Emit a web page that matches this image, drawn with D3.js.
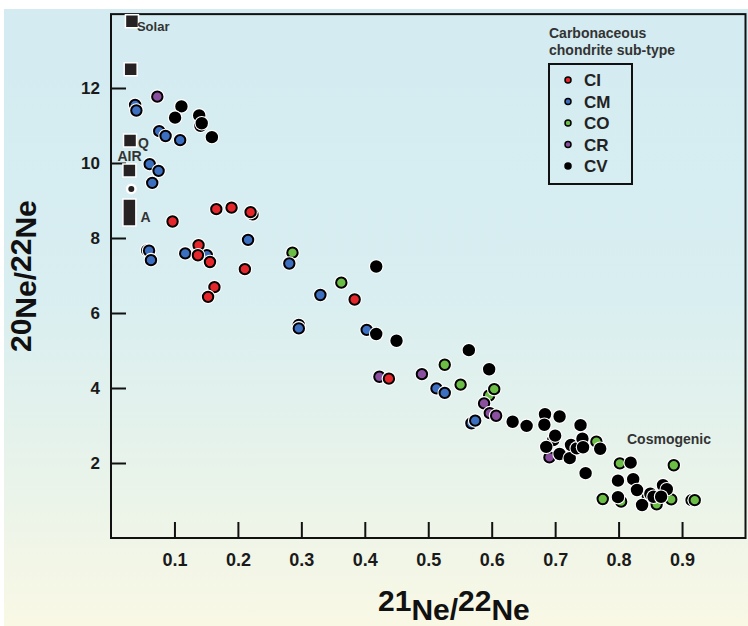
<!DOCTYPE html>
<html>
<head>
<meta charset="utf-8">
<script src="https://cdn.jsdelivr.net/npm/d3@7"></script>
<style>
  body { margin: 0; background: #fff; }
  svg { display: block; font-family: "Liberation Sans", Arial, Helvetica, sans-serif; }
</style>
</head>
<body>
<svg id="chart" width="748" height="626"></svg>
<script>
// Neon isotope ratios of carbonaceous chondrites: [21Ne/22Ne, 20Ne/22Ne]
const ciPoints = [
  [0.097, 8.44], [0.166, 8.77], [0.190, 8.81], [0.223, 8.63], [0.220, 8.69],
  [0.138, 7.81], [0.137, 7.54], [0.156, 7.36], [0.211, 7.17], [0.163, 6.69],
  [0.153, 6.43], [0.384, 6.36], [0.438, 4.25]
];
const cmPoints = [
  [0.038, 11.55], [0.040, 11.40], [0.076, 10.85], [0.086, 10.72], [0.109, 10.61],
  [0.061, 9.97], [0.075, 9.79], [0.065, 9.47], [0.057, 7.67], [0.060, 7.66],
  [0.063, 7.41], [0.117, 7.59], [0.151, 7.54], [0.216, 7.95], [0.281, 7.32],
  [0.296, 5.68], [0.296, 5.59], [0.330, 6.48], [0.403, 5.55], [0.513, 3.99],
  [0.526, 3.87], [0.568, 3.06], [0.574, 3.13]
];
const coPoints = [
  [0.286, 7.61], [0.363, 6.81], [0.526, 4.62], [0.551, 4.09], [0.596, 3.80],
  [0.604, 3.97], [0.765, 2.57], [0.802, 1.99], [0.887, 1.94], [0.775, 1.04],
  [0.804, 0.97], [0.846, 1.12], [0.860, 0.90], [0.883, 1.03], [0.915, 1.01],
  [0.920, 1.01]
];
const crPoints = [
  [0.073, 11.77], [0.423, 4.30], [0.490, 4.37], [0.588, 3.59], [0.597, 3.33],
  [0.607, 3.26], [0.691, 2.15]
];
const cvPoints = [
  [0.111, 11.51], [0.101, 11.21], [0.139, 11.27], [0.141, 10.99], [0.143, 11.06],
  [0.159, 10.69], [0.418, 7.24], [0.418, 5.44], [0.450, 5.26], [0.564, 5.01],
  [0.596, 4.50], [0.633, 3.10], [0.655, 2.99], [0.684, 3.30], [0.683, 3.02],
  [0.707, 3.24], [0.740, 3.01], [0.697, 2.61], [0.700, 2.73], [0.686, 2.43],
  [0.707, 2.24], [0.723, 2.13], [0.725, 2.48], [0.734, 2.39], [0.743, 2.65],
  [0.744, 2.42], [0.771, 2.38], [0.748, 1.73], [0.819, 2.01], [0.799, 1.53],
  [0.823, 1.57], [0.829, 1.28], [0.870, 1.41], [0.876, 1.30], [0.799, 1.09],
  [0.837, 0.88], [0.850, 1.18], [0.855, 1.10], [0.867, 1.10]
];

// Sub-types, in legend order and in drawing order
const subTypes = ["CI", "CM", "CO", "CR", "CV"];
const subTypeColors = ["#e5262b", "#3c6fc0", "#6cbd45", "#8b4f9f", "#000000"];
const drawOrder = ["CO", "CR", "CM", "CI", "CV"];
const seriesByType = { CI: ciPoints, CM: cmPoints, CO: coPoints, CR: crPoints, CV: cvPoints };

// Reference neon components
const refNames = ["Solar", "", "Q", "AIR"];
const refX = [0.033, 0.031, 0.030, 0.029];
const refY = [13.78, 12.50, 10.60, 9.80];
const refDot = [0.032, 9.31];
const refA = { x: 0.029, yLow: 8.32, yHigh: 9.04 };

const xTicks = [0.1, 0.2, 0.3, 0.4, 0.5, 0.6, 0.7, 0.8, 0.9];
const yTicks = [2, 4, 6, 8, 10, 12];

const svg = d3.select("#chart");
const W = 748, H = 626;

// background wash: pale blue at top fading to cream at bottom
const defs = svg.append("defs");
const grad = defs.append("linearGradient").attr("id", "bg").attr("x1", 0).attr("y1", 0).attr("x2", 0).attr("y2", 1);
[[0, "#d3ebf1"], [0.45, "#d8eef1"], [0.75, "#e8f3ea"], [1, "#f9f8e5"]].forEach(([o, c]) =>
  grad.append("stop").attr("offset", o).attr("stop-color", c));
svg.append("rect").attr("x", 4).attr("y", 9).attr("width", W - 4).attr("height", H - 9).attr("fill", "url(#bg)");

const x = d3.scaleLinear().domain([0, 1]).range([111, 745.5]);
const y = d3.scaleLinear().domain([0, 14]).range([538, 13]);

// plot frame
svg.append("rect")
  .attr("x", x(0)).attr("y", y(13.97))
  .attr("width", x(1) - x(0)).attr("height", y(0) - y(13.97))
  .attr("fill", "none").attr("stroke", "#111").attr("stroke-width", 2);

// axes with inward ticks
const xAxis = svg.append("g").attr("transform", `translate(0,${y(0)})`)
  .call(d3.axisBottom(x).tickValues(xTicks).tickSize(-16).tickPadding(0).tickFormat(d3.format(".1f")));
xAxis.select(".domain").remove();
xAxis.selectAll(".tick line").attr("stroke", "#111").attr("stroke-width", 2);
xAxis.selectAll(".tick text").attr("y", 22).attr("dy", "0.35em")
  .attr("font-size", 18).attr("font-weight", "bold").attr("fill", "#1a1a1a").attr("font-family", null);

const yAxis = svg.append("g").attr("transform", `translate(${x(0)},0)`)
  .call(d3.axisLeft(y).tickValues(yTicks).tickSize(-15).tickPadding(0));
yAxis.select(".domain").remove();
yAxis.selectAll(".tick line").attr("stroke", "#111").attr("stroke-width", 2);
yAxis.selectAll(".tick text").attr("x", -11).attr("dy", "0.35em")
  .attr("font-size", 17).attr("font-weight", "bold").attr("fill", "#1a1a1a").attr("font-family", null);

// axis titles
const xTitle = svg.append("text").attr("x", 378).attr("y", 620)
  .attr("font-size", 30).attr("font-weight", "bold").attr("fill", "#111");
[["21", -9], ["Ne/", 9], ["22", -9], ["Ne", 9]].forEach(([t, d]) =>
  xTitle.append("tspan").attr("dy", d).text(t));

const yTitle = svg.append("text").attr("transform", "translate(36,352) rotate(-90)")
  .attr("font-size", 30).attr("font-weight", "bold").attr("fill", "#111");
[["20", -5], ["Ne/", 5], ["22", -5], ["Ne", 5]].forEach(([t, d]) =>
  yTitle.append("tspan").attr("dy", d).text(t));

// reference components: squares, dot and the A range bar
const refG = svg.append("g");
refX.forEach((rx, i) => {
  refG.append("rect")
    .attr("x", x(rx) - 6.5).attr("y", y(refY[i]) - 6.5)
    .attr("width", 13).attr("height", 13)
    .attr("fill", "#262223").attr("stroke", "#fff").attr("stroke-width", 1.5);
});
refG.append("circle").attr("cx", x(refDot[0])).attr("cy", y(refDot[1])).attr("r", 5.5)
  .attr("fill", "#fff");
refG.append("circle").attr("cx", x(refDot[0])).attr("cy", y(refDot[1])).attr("r", 3)
  .attr("fill", "#262223");
refG.append("rect")
  .attr("x", x(refA.x) - 6.5).attr("y", y(refA.yHigh))
  .attr("width", 13).attr("height", y(refA.yLow) - y(refA.yHigh))
  .attr("fill", "#262223").attr("stroke", "#fff").attr("stroke-width", 1.5);

const labelStyle = sel => sel.attr("font-weight", "bold").attr("fill", "#333");
labelStyle(refG.append("text").attr("x", x(refX[0]) + 5).attr("y", y(refY[0]) + 10)
  .attr("font-size", 13).text(refNames[0]));
labelStyle(refG.append("text").attr("x", x(refX[2]) + 8).attr("y", y(refY[2]) + 7)
  .attr("font-size", 14).text(refNames[2]));
labelStyle(refG.append("text").attr("x", x(refX[3]) - 12).attr("y", y(refY[3]) - 10)
  .attr("font-size", 14).text(refNames[3]));
labelStyle(refG.append("text").attr("x", x(refA.x) + 11).attr("y", y((refA.yLow + refA.yHigh) / 2) + 9)
  .attr("font-size", 14).text("A"));

// meteorite points: white halo, coloured disc with black rim
const ptG = svg.append("g");
drawOrder.forEach(t => {
  const col = subTypeColors[subTypes.indexOf(t)];
  seriesByType[t].forEach(([vx, vy]) => {
    ptG.append("circle").attr("cx", x(vx)).attr("cy", y(vy)).attr("r", 7.3).attr("fill", "#fff");
    ptG.append("circle").attr("cx", x(vx)).attr("cy", y(vy)).attr("r", 5.2)
      .attr("fill", col).attr("stroke", "#000").attr("stroke-width", 2);
  });
});

// Cosmogenic annotation
labelStyle(svg.append("text").attr("x", 627).attr("y", 444).attr("font-size", 14).text("Cosmogenic"));

// legend
const lg = svg.append("g");
labelStyle(lg.append("text").attr("x", 549).attr("y", 38).attr("font-size", 14).text("Carbonaceous"));
labelStyle(lg.append("text").attr("x", 549).attr("y", 55).attr("font-size", 14).text("chondrite sub-type"));
lg.append("rect").attr("x", 549).attr("y", 64).attr("width", 83).attr("height", 120)
  .attr("fill", "none").attr("stroke", "#111").attr("stroke-width", 2);
subTypes.forEach((t, i) => {
  const cy = 80 + i * 21.5;
  lg.append("circle").attr("cx", 568).attr("cy", cy).attr("r", 3)
    .attr("fill", subTypeColors[i]).attr("stroke", "#000").attr("stroke-width", 1.5);
  lg.append("text").attr("x", 584).attr("y", cy).attr("dy", "0.36em")
    .attr("font-size", 17).attr("font-weight", "bold").attr("fill", "#222").text(t);
});
</script>
</body>
</html>
